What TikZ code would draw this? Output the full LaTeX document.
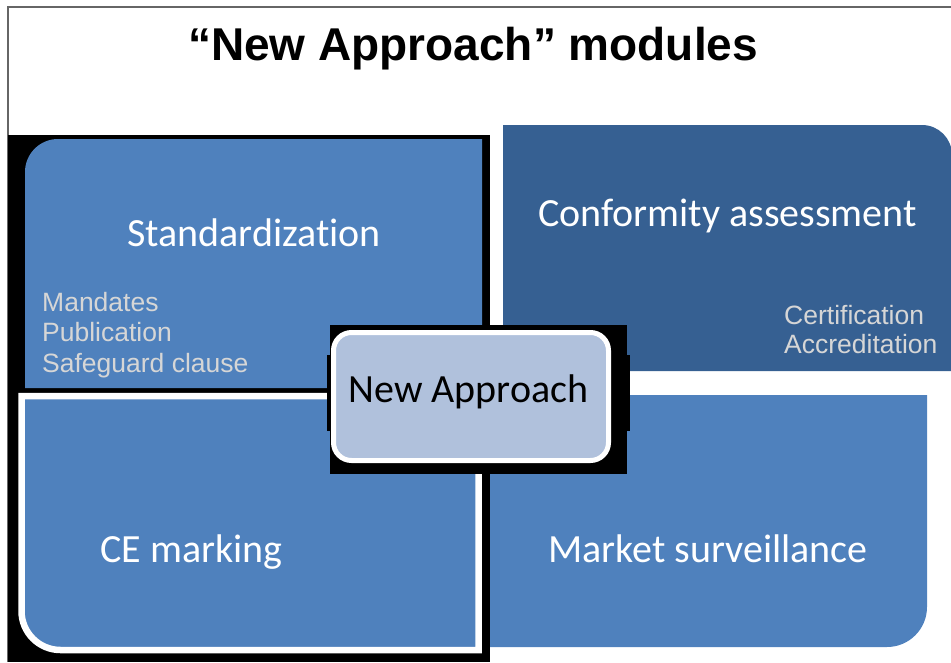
\documentclass[tikz,border=0pt]{standalone}
\usepackage{fontspec}
\setmainfont{Carlito}[Ligatures=NoCommon]
\newfontfamily\arialfont{Liberation Sans}
\usetikzlibrary{positioning}

\definecolor{modblue}{RGB}{79,129,189}
\definecolor{confblue}{RGB}{54,96,146}
\definecolor{corelight}{RGB}{176,193,220}
\definecolor{subgray}{RGB}{214,214,214}

\begin{document}
\begin{tikzpicture}[x=1pt, y=-1pt,
    label/.style={anchor=base, inner sep=0pt, text=white, font=\fontsize{40}{48}\selectfont},
    subitem/.style={anchor=base west, inner sep=0pt, text=subgray, font=\arialfont\fontsize{26.5}{30}\selectfont}]
  \useasboundingbox (0,0) rectangle (951,662);
  \draw[black!60, line width=1.5pt] (8,662) -- (8,7) -- (951,7);
  % black backing on the left
  \fill[black] (8,135) rectangle (490,662);
  % the four modules
  \fill[modblue] (482,388) -- (25,388) [rounded corners=33pt] -- (25,139) [sharp corners] -- (482,139) -- cycle;
  \fill[confblue] (503,371) -- (503,125) [rounded corners=30pt] -- (952,125) [sharp corners] -- (952,371) -- cycle;
  \draw[white, line width=6.5pt, fill=modblue] (478.5,396) -- (21.5,396) [rounded corners=39pt] -- (21.5,650) [sharp corners] -- (478.5,650) -- cycle;
  \fill[modblue] (490,395) -- (490,647) [rounded corners=40pt] -- (927,647) [sharp corners] -- (927,395) -- cycle;
  % core box and its backing
  \fill[black] (330,325) rectangle (627,474);
  \fill[black] (327,355) rectangle (630,431);
  \node[draw=white, line width=5pt, fill=corelight, rounded corners=18pt,
        minimum width=275pt, minimum height=128pt, inner sep=0pt] (core) at (471,396.5) {};

  \node[anchor=base, inner sep=0pt, font=\arialfont\bfseries\fontsize{46}{55}\selectfont] (title) at (473,60) {“New Approach” modules};
  \node[label] (std) at (254,246) {Standardization};
  \node[label] (conf) at (727.5,226) {Conformity assessment};
  \node[label] (ce) at (191.5,562) {CE marking};
  \node[label] (market) at (708,562) {Market surveillance};
  \node[label, text=black] (corelabel) at (468.5,402) {New Approach};

  \foreach \txt [count=\i] in {Mandates, Publication, Safeguard clause}
    \node[subitem] (stditem\i) at (42, 280.5+30.5*\i) {\txt};
  \foreach \txt [count=\i] in {Certification, Accreditation}
    \node[subitem] (confitem\i) at (784, 295+29*\i) {\txt};
\end{tikzpicture}
\end{document}
